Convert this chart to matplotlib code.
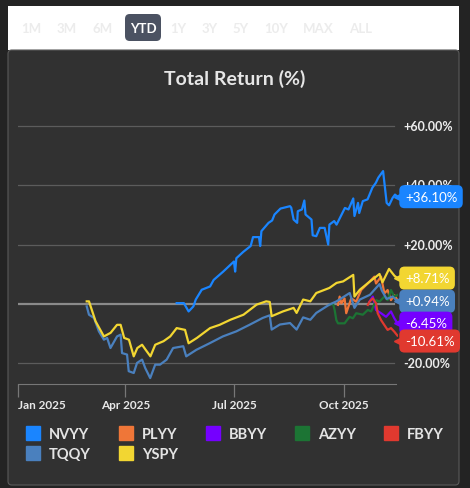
import matplotlib

matplotlib.use("Agg")
import matplotlib.pyplot as plt
import matplotlib.dates as mdates
from matplotlib.patches import FancyBboxPatch, Rectangle
import numpy as np
import pandas as pd

plt.rcParams["font.family"] = ["Lato", "DejaVu Sans"]

START = pd.Timestamp("2025-01-01")

# day-of-year offsets and total return (%) per fund
nvyy_days = [133, 139, 143, 147, 149, 154, 161, 164, 172, 181, 182, 183, 189, 195, 197, 202, 203, 204,
             210, 213, 215, 220, 225, 228, 229, 231, 234, 234.5, 238, 240, 241, 246, 247, 250, 253, 257,
             260, 261, 265, 267, 274, 277, 281, 282, 285, 286, 289, 293, 297, 300, 302, 306, 309, 311,
             314, 316, 318]
nvyy_vals = [0.3, 0.3, -2.5, -0.8, 1.5, 4.8, 5.9, 8.1, 10.9, 14.3, 10.9, 15.4, 17.6, 19.5, 22.5, 22.5,
             19.5, 24.5, 27.3, 28.1, 30.1, 32.1, 32.6, 32.9, 32.4, 28.4, 27.3, 31.2, 31.8, 34.8, 30.1,
             28.4, 23.1, 22.8, 25.6, 25.6, 20.0, 26.7, 27.9, 26.7, 32.3, 31.8, 35.5, 29.6, 34.0, 30.6,
             34.6, 35.2, 39.1, 40.8, 42.5, 44.7, 34.0, 33.2, 35.7, 36.8, 36.1]

tqqy_days = [57.6, 59.5, 63.7, 67.8, 72, 74.7, 77.5, 83, 86, 87.2, 91.4, 92.8, 97, 99.8, 104, 106.6,
             110.8, 115, 119, 124.6, 130, 138.5, 141, 149.5, 160.6, 171.7, 183, 194, 205, 211, 212.6,
             219.5, 228, 233.5, 239, 245, 250, 261, 267, 278, 282, 286.5, 295, 303, 305, 309, 314, 318]
tqqy_vals = [-0.8, -3.6, -4.7, -9.2, -12.0, -11.4, -14.8, -10.9, -10.3, -16.5, -17.0, -22.6, -23.2,
             -19.8, -18.7, -21.5, -24.9, -20.4, -20.4, -18.7, -14.8, -14.2, -17.6, -15.4, -13.2, -10.9,
             -9.2, -7.0, -4.7, -3.8, -8.6, -6.9, -6.4, -8.6, -4.5, -5.3, -3.0, -0.2, 0.9, 3.7, -1.3, 1.5,
             3.1, 6.7, 4.5, 1.7, 2.5, 0.94]

yspy_days = [57.6, 59.5, 65, 72, 77.6, 83, 86, 89, 93, 97, 100, 104, 107, 111, 115, 122, 127.6, 133,
             140, 143, 150, 161, 169, 178, 189, 200, 208, 211, 212.6, 222, 231, 233.5, 239, 245, 250,
             261, 267, 272.5, 281, 282, 286.5, 295, 303, 305.5, 311, 315.5, 318]
yspy_vals = [0.9, 0.9, -5.8, -10.9, -9.7, -7.0, -7.0, -11.4, -12.0, -17.6, -14.8, -13.7, -15.4, -17.6,
             -13.7, -12.5, -10.9, -8.1, -8.7, -13.2, -11.4, -8.1, -7.0, -5.3, -3.6, -0.2, 0.9, 0.7, -4.1,
             -2.5, -1.3, -3.0, 1.5, 0.9, 3.7, 5.4, 7.1, 7.6, 9.8, 2.5, 4.8, 7.6, 10.1, 7.3, 11.8, 9.5, 8.71]

plyy_days = [268.2, 269.6, 271, 273.7, 275.1, 279.3, 283.5, 287.6, 294.6, 298.7, 300.1, 304.3, 307.1,
             309.8, 312.6, 315.4, 318]
plyy_vals = [-0.3, 2.5, 0.2, 1.9, -3.1, 1.9, 0.8, 4.7, 7.5, 9.2, 6.9, 9.2, 3.6, 4.7, 1.3, 3.0, 1.3]

azyy_days = [261.3, 264, 265.4, 266.8, 268.2, 273.7, 277.9, 280.7, 283.5, 289, 293.2, 296, 300.1,
             302.9, 307.1, 309.8, 312.6, 315.4, 318]
azyy_vals = [-0.3, 0.2, -2.0, -5.4, -6.5, -6.5, -4.3, -4.8, -3.1, -3.6, -2.0, -2.5, 1.3, 0.8, 2.5, 1.3,
             4.7, 2.5, 3.0]

bbyy_days = [294.6, 297.4, 300.1, 304.3, 308.5, 312.6, 315.4, 318]
bbyy_vals = [0.8, 2.5, -2.0, -3.1, -4.3, -2.5, -4.8, -6.45]

fbyy_days = [293.2, 294.6, 297.4, 300.1, 301.5, 304.3, 307.1, 309.8, 312.6, 315.4, 318]
fbyy_vals = [-0.3, 0.8, 1.9, 0.2, -3.1, -5.4, -7.1, -8.7, -8.1, -9.3, -10.61]

# end labels (value shown in the badge)
label_funds = ["NVYY", "YSPY", "TQQY", "BBYY", "FBYY"]
label_vals = [36.10, 8.71, 0.94, -6.45, -10.61]

series = [
    ("NVYY", "#1a85ff", nvyy_days, nvyy_vals),
    ("PLYY", "#ef7638", plyy_days, plyy_vals),
    ("BBYY", "#7500ff", bbyy_days, bbyy_vals),
    ("AZYY", "#1c7434", azyy_days, azyy_vals),
    ("FBYY", "#e0392f", fbyy_days, fbyy_vals),
    ("TQQY", "#4a80be", tqqy_days, tqqy_vals),
    ("YSPY", "#f2d632", yspy_days, yspy_vals),
]
colors = {name: c for name, c, _, _ in series}

W, H = 470, 489
fig = plt.figure(figsize=(W / 100, H / 100), dpi=100)
fig.patch.set_facecolor("#232323")


def fx(px):
    return px / W


def fy(py):
    return 1 - py / H


# tab bar + panel, kept behind the axes
fig.patches.append(Rectangle((fx(8), fy(51)), fx(451), 44 / H, transform=fig.transFigure,
                             facecolor="white", edgecolor="none", zorder=-2))
fig.patches.append(FancyBboxPatch((fx(8), fy(486)), fx(451), 435 / H, transform=fig.transFigure,
                                  boxstyle="round,pad=0,rounding_size=0.008", facecolor="#313131",
                                  edgecolor="#5a5a5a", lw=0.8, zorder=-2))
tabs = ["1M", "3M", "6M", "YTD", "1Y", "3Y", "5Y", "10Y", "MAX", "ALL"]
tab_x = [31, 67, 103, 143, 178, 210, 241, 276, 318, 361]
for t, x in zip(tabs, tab_x):
    if t == "YTD":
        fig.patches.append(FancyBboxPatch((fx(125), fy(42)), fx(36), 27 / H, transform=fig.transFigure,
                                          boxstyle="round,pad=0,rounding_size=0.01",
                                          facecolor="#4b5262", edgecolor="none", zorder=-1))
        fig.text(fx(x), fy(29), t, color="white", fontsize=9.5, fontweight="bold", ha="center", va="center")
    else:
        fig.text(fx(x), fy(29), t, color="#ececec", fontsize=9.5, fontweight="bold", ha="center", va="center")

fig.text(0.5, fy(79), "Total Return (%)", color="#e6e6e6", fontsize=14, fontweight="bold",
         ha="center", va="center")

ax = fig.add_axes([fx(18), fy(385), fx(380), 270 / H])
ax.set_facecolor("none")
ax.set_ylim(-26.9, 63.9)
x0, x1 = START, START + pd.Timedelta(days=318.5)
ax.set_xlim(x0, x1)

for g in [-20, 20, 40, 60]:
    ax.axhline(g, color="#5c5c5c", lw=0.9, xmax=0.99, zorder=1)
ax.axhline(0, color="#8a8a8a", lw=1.6, xmax=0.99, zorder=1)


def to_dates(days):
    return START + pd.to_timedelta(np.array(days), unit="D")


for name, c, d, v in series:
    ax.plot(to_dates(d), v, color=c, lw=1.6, zorder=3)

for s in ["top", "right", "left"]:
    ax.spines[s].set_visible(False)
ax.spines["bottom"].set_color("#777777")
ax.spines["bottom"].set_bounds(mdates.date2num(x0), mdates.date2num(x1 - pd.Timedelta(days=2)))
ax.set_yticks([])
month_ticks = [pd.Timestamp("2025-01-01"), pd.Timestamp("2025-04-01"), pd.Timestamp("2025-07-01"),
               pd.Timestamp("2025-10-01")]
ax.set_xticks(month_ticks)
ax.set_xticklabels([t.strftime("%b %Y") for t in month_ticks])
ax.tick_params(axis="x", colors="#777777", length=9, width=0.9, labelcolor="#e8e8e8", labelsize=8.5, pad=2)
for lab in ax.get_xticklabels():
    lab.set_fontweight("bold")
ax.get_xticklabels()[0].set_horizontalalignment("left")

# y tick labels on the right
for g in [-20, 20, 40, 60]:
    txt = f"{g:+.2f}%" if g > 0 else f"{g:.2f}%"
    ax.text(1.013, g, txt, transform=ax.get_yaxis_transform(), color="#ececec", fontsize=9,
            fontweight="bold", va="center", ha="left", zorder=2, clip_on=False)

# end badges, spread so they do not overlap
pos = list(label_vals)
for i in range(1, len(pos)):
    if pos[i - 1] - pos[i] < 6.0:
        pos[i] = pos[i - 1] - 6.0
for name, v, p in zip(label_funds, label_vals, pos):
    c = colors[name]
    ax.text(1.018, p, f"{v:+.2f}%", transform=ax.get_yaxis_transform(), color="white", fontsize=9.5,
            ha="left", va="center", zorder=10, clip_on=False,
            bbox=dict(boxstyle="round,pad=0.42,rounding_size=0.4", facecolor=c, edgecolor="none"))
    ax.plot([1.003], [p], marker="<", ms=7, color=c, transform=ax.get_yaxis_transform(),
            clip_on=False, zorder=10)

order = ["NVYY", "TQQY", "PLYY", "YSPY", "BBYY", "AZYY", "FBYY"]
leg_h = [plt.Line2D([], [], marker="s", ls="none", ms=10, color=colors[n]) for n in order]
fig.legend(leg_h, order, ncol=5, loc="center", bbox_to_anchor=(0.5, fy(445)), frameon=False,
           labelcolor="#e4e4e4", prop={"weight": "bold", "size": 10.5}, columnspacing=1.9,
           handletextpad=0.6, handlelength=1.0, labelspacing=0.45)

fig.savefig("out.png", dpi=100, facecolor=fig.get_facecolor())
